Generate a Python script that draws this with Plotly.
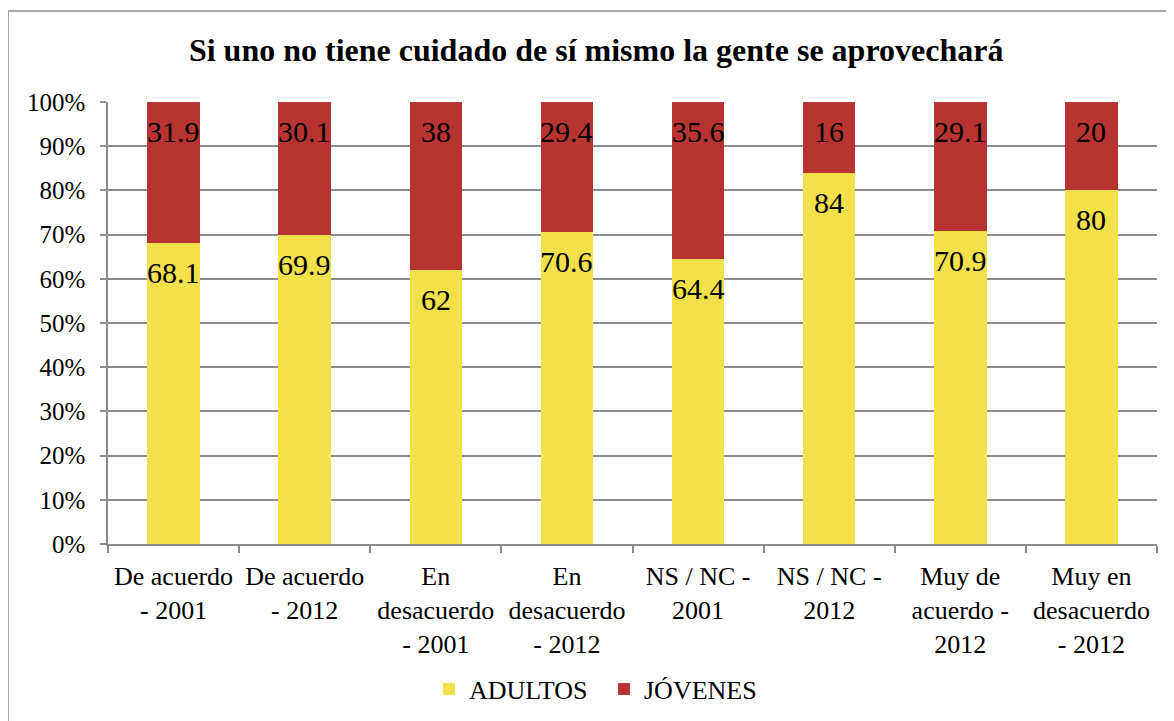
import plotly.graph_objects as go

categories = [
    "De acuerdo<br>- 2001",
    "De acuerdo<br>- 2012",
    "En<br>desacuerdo<br>- 2001",
    "En<br>desacuerdo<br>- 2012",
    "NS / NC -<br>2001",
    "NS / NC -<br>2012",
    "Muy de<br>acuerdo -<br>2012",
    "Muy en<br>desacuerdo<br>- 2012",
]
adultos = [68.1, 69.9, 62, 70.6, 64.4, 84, 70.9, 80]
jovenes = [31.9, 30.1, 38, 29.4, 35.6, 16, 29.1, 20]
y_tick_values = [0, 10, 20, 30, 40, 50, 60, 70, 80, 90, 100]
y_tick_labels = ["0%", "10%", "20%", "30%", "40%", "50%", "60%", "70%", "80%", "90%", "100%"]

FONT = "Liberation Serif"
YELLOW = "#F2E14B"
RED = "#B83433"
GRID = "#8C8C8C"

fig = go.Figure()
fig.add_trace(go.Bar(name="ADULTOS", x=categories, y=adultos,
                     marker=dict(color=YELLOW, line=dict(width=0))))
fig.add_trace(go.Bar(name="JÓVENES", x=categories, y=jovenes,
                     marker=dict(color=RED, line=dict(width=0))))

annotations = []
for c, a, j in zip(categories, adultos, jovenes):
    for val, top in ((a, a), (j, a + j)):
        annotations.append(dict(
            x=c, y=top, xref="x", yref="y", text=f"{val:g}",
            showarrow=False, yanchor="top", yshift=-11,
            font=dict(family=FONT, size=30, color="black")))

fig.update_layout(
    barmode="stack",
    bargap=0.6,
    width=1174, height=721,
    margin=dict(l=100, r=25, t=94, b=185),
    paper_bgcolor="white", plot_bgcolor="white",
    font=dict(family=FONT, size=25, color="black"),
    title=dict(text="<b>Si uno no tiene cuidado de sí mismo la gente se aprovechará</b>",
               x=0.501, xref="container", xanchor="center",
               y=0.942, yref="container", yanchor="middle",
               font=dict(family=FONT, size=32, color="black")),
    legend=dict(orientation="h", x=0.306, xanchor="left", y=-0.328, yanchor="middle",
                font=dict(family=FONT, size=26), traceorder="normal",
                itemwidth=30, entrywidth=130, entrywidthmode="pixels"),
    annotations=annotations,
    shapes=[dict(type="rect", xref="paper", yref="paper",
                 x0=-0.0953, x1=1.03, y0=-0.45, y1=1.206,
                 line=dict(color="#8C8C8C", width=1.5), fillcolor="rgba(0,0,0,0)",
                 layer="below")],
)
fig.update_xaxes(showline=True, linecolor=GRID, linewidth=1.5,
                 ticks="outside", tickson="boundaries", ticklen=7, tickcolor=GRID,
                 tickwidth=1.5, tickfont=dict(family=FONT, size=26),
                 ticklabelstandoff=8, showgrid=False)
fig.update_yaxes(range=[0, 100], tickmode="array", tickvals=y_tick_values,
                 ticktext=y_tick_labels,
                 showline=True, linecolor=GRID, linewidth=1.5,
                 ticks="outside", ticklen=6, tickcolor=GRID, tickwidth=1.5,
                 showgrid=True, gridcolor=GRID, gridwidth=1.5,
                 tickfont=dict(family=FONT, size=25), ticklabelstandoff=10,
                 zeroline=False)

fig.write_html("out.html")
